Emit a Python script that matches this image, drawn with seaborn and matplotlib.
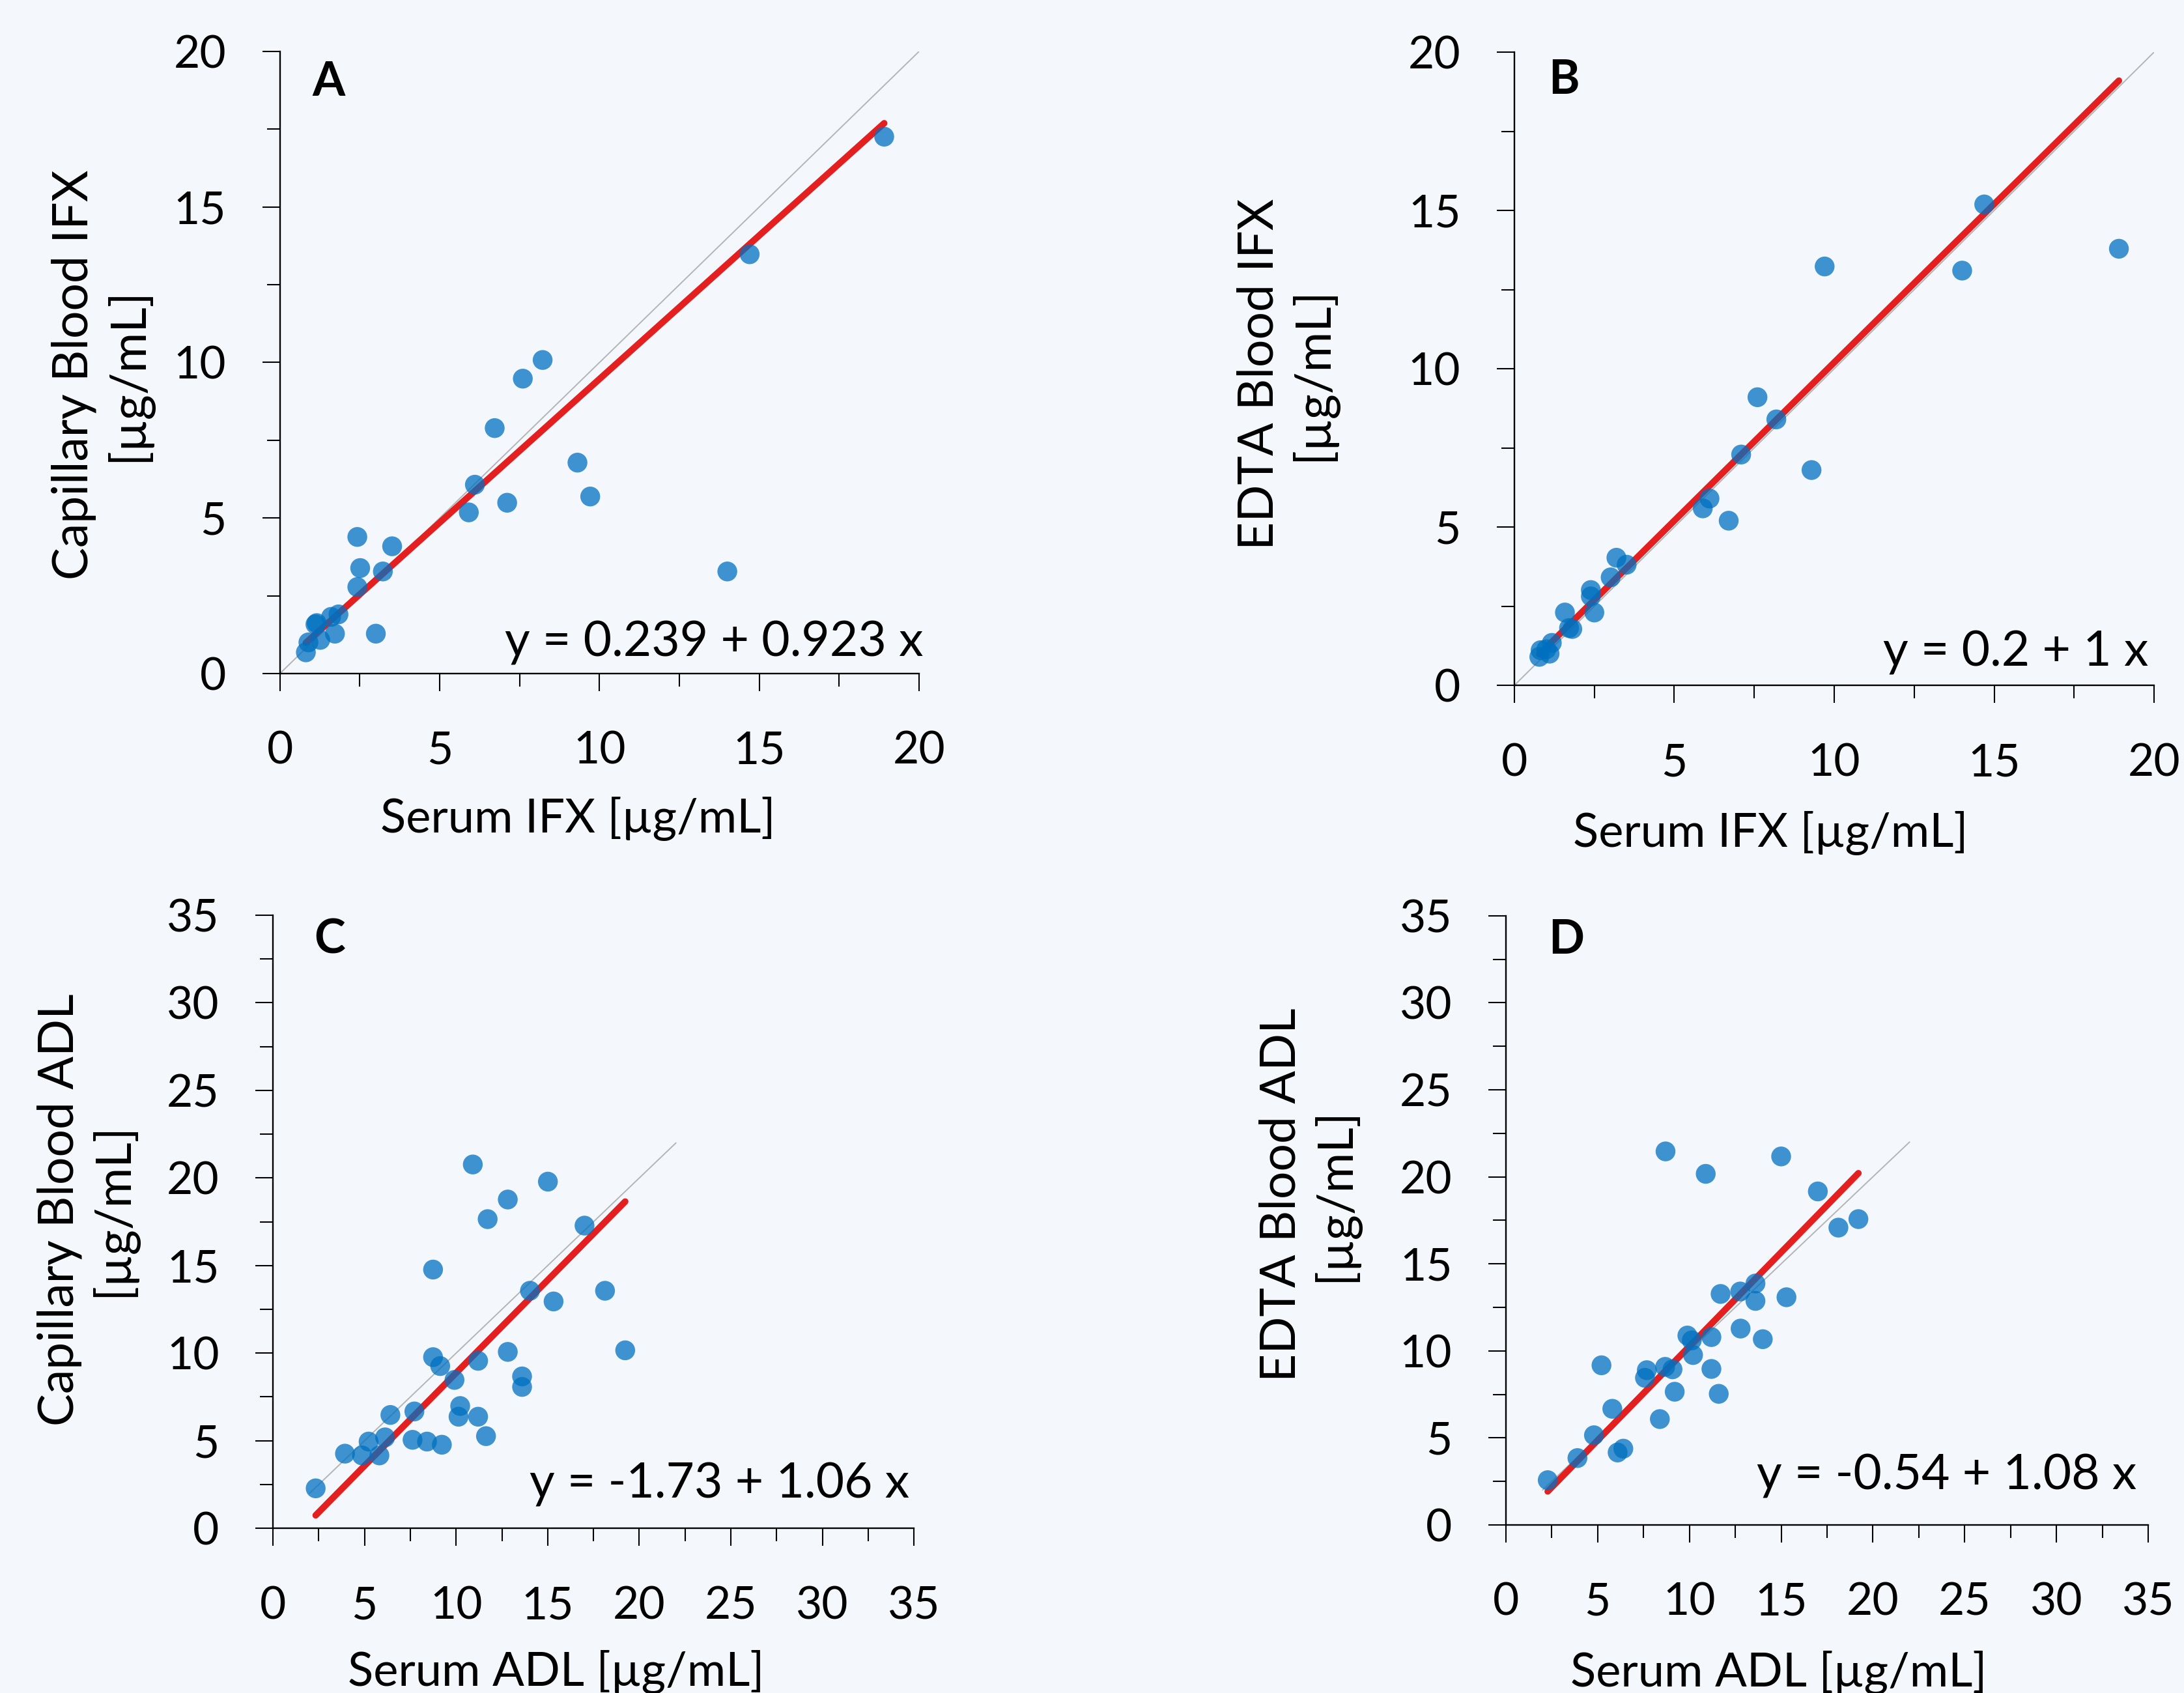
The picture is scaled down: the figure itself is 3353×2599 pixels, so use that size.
import numpy as np
import pandas as pd
import seaborn as sns
import matplotlib
matplotlib.use("Agg")
import matplotlib.pyplot as plt
from matplotlib.ticker import MultipleLocator

# ---- data ----
# A: serum IFX vs capillary blood IFX
a_serum = [18.91, 14.70, 14.00, 8.22, 7.60, 6.72, 9.31, 9.71, 6.10, 7.11, 5.91, 2.42, 3.51,
           2.51, 3.22, 2.42, 3.00, 1.83, 1.60, 1.72, 1.11, 1.15, 1.26, 0.89, 0.81]
a_cap = [17.26, 13.48, 3.28, 10.08, 9.48, 7.89, 6.78, 5.69, 6.07, 5.49, 5.18, 4.39, 4.09,
         3.39, 3.28, 2.78, 1.28, 1.90, 1.82, 1.28, 1.58, 1.62, 1.08, 1.00, 0.68]
# B: serum IFX vs EDTA blood IFX
b_serum = [18.90, 14.69, 14.00, 9.70, 9.29, 7.60, 8.19, 7.09, 6.10, 5.89, 6.70, 3.19, 3.51,
           3.01, 2.39, 2.39, 2.50, 1.58, 1.71, 1.81, 1.17, 1.00, 1.10, 0.82, 0.78]
b_edta = [13.79, 15.19, 13.10, 13.23, 6.80, 9.10, 8.40, 7.29, 5.90, 5.59, 5.20, 4.03, 3.81,
          3.41, 3.01, 2.81, 2.30, 2.30, 1.81, 1.78, 1.34, 1.14, 1.00, 1.11, 0.90]
# C: serum ADL vs capillary blood ADL
c_serum = [10.91, 15.01, 12.82, 11.72, 17.01, 8.74, 14.03, 18.13, 15.32, 19.23, 12.82, 8.74,
           9.13, 11.20, 9.91, 13.60, 13.60, 10.22, 10.13, 11.20, 7.72, 6.41, 11.63, 6.12,
           5.22, 7.62, 8.41, 9.22, 3.93, 4.86, 5.81, 2.33]
c_cap = [20.77, 19.79, 18.77, 17.65, 17.28, 14.77, 13.56, 13.56, 12.95, 10.16, 10.07, 9.77,
         9.26, 9.56, 8.47, 8.67, 8.07, 6.98, 6.37, 6.37, 6.67, 6.47, 5.26, 5.19,
         4.95, 5.05, 4.95, 4.77, 4.26, 4.16, 4.16, 2.28]
# D: serum ADL vs EDTA blood ADL
d_serum = [8.70, 15.00, 10.89, 17.00, 19.21, 18.12, 13.60, 12.77, 11.70, 15.29, 13.60, 12.79,
           14.00, 11.20, 9.89, 10.13, 10.20, 11.20, 8.68, 9.08, 5.21, 7.68, 7.58, 9.20,
           11.60, 8.39, 5.80, 4.80, 6.40, 6.09, 3.90, 2.28]
d_edta = [21.46, 21.17, 20.17, 19.16, 17.57, 17.08, 13.87, 13.41, 13.27, 13.08, 12.87, 11.28,
          10.67, 10.79, 10.88, 10.60, 9.76, 8.96, 9.08, 8.94, 9.17, 8.89, 8.45, 7.65,
          7.53, 6.08, 6.67, 5.15, 4.38, 4.16, 3.84, 2.57]

panel_letters = ["A", "B", "C", "D"]
x_labels = ["Serum IFX [µg/mL]", "Serum IFX [µg/mL]", "Serum ADL [µg/mL]", "Serum ADL [µg/mL]"]
y_labels = ["Capillary Blood IFX\n[µg/mL]", "EDTA Blood IFX\n[µg/mL]",
            "Capillary Blood ADL\n[µg/mL]", "EDTA Blood ADL\n[µg/mL]"]
intercepts = [0.239, 0.2, -1.73, -0.54]
slopes = [0.923, 1, 1.06, 1.08]
equations = ["y = 0.239 + 0.923 x", "y = 0.2 + 1 x", "y = -1.73 + 1.06 x", "y = -0.54 + 1.08 x"]
axis_max = [20, 20, 35, 35]
identity_range = [(0, 20), (0, 20), (2, 22), (2, 22)]

# ---- style ----
BG = "#F4F8FC"
sns.set_theme(style="ticks")
plt.rcParams["font.family"] = ["Lato", "DejaVu Sans"]
plt.rcParams["axes.facecolor"] = BG
plt.rcParams["figure.facecolor"] = BG
for key in ["text.color", "axes.labelcolor", "xtick.color", "ytick.color",
            "xtick.labelcolor", "ytick.labelcolor"]:
    plt.rcParams[key] = "black"

fig = plt.figure(figsize=(3353 / 200, 2599 / 200), dpi=200)

# axes rectangles [left, bottom, width, height] in figure fraction
rects = [[0.1282, 0.6022, 0.2926, 0.3674],
         [0.6934, 0.5952, 0.2929, 0.3740],
         [0.1250, 0.0973, 0.2935, 0.3621],
         [0.6895, 0.0993, 0.2941, 0.3598]]
ylabel_pos = [(-0.201, 0.48), (-0.278, 0.492), (-0.212, 0.52), (-0.229, 0.542)]
xlabel_pos = [(0.466, -0.198), (0.40, -0.198), (0.442, -0.199), (0.425, -0.206)]
letter_pos = [(0.05, 0.985), (0.053, 0.99), (0.064, 0.995), (0.066, 0.996)]
eq_pos = [(1.007, 0.028), (0.991, 0.030), (0.993, 0.050), (0.982, 0.058)]

datasets = [(a_serum, a_cap), (b_serum, b_edta), (c_serum, c_cap), (d_serum, d_edta)]

for i, (xs, ys) in enumerate(datasets):
    ax = fig.add_axes(rects[i])
    df = pd.DataFrame({"serum": xs, "blood": ys})

    # identity line
    lo, hi = identity_range[i]
    ax.plot([lo, hi], [lo, hi], color="#B4B4B4", lw=0.7, zorder=1)

    # regression line across data range
    xr = np.array([df["serum"].min(), df["serum"].max()])
    ax.plot(xr, intercepts[i] + slopes[i] * xr, color="#E31F1F", lw=3.6,
            solid_capstyle="round", zorder=2)

    sns.scatterplot(data=df, x="serum", y="blood", ax=ax, color="#0070C0", alpha=0.75,
                    s=120, edgecolor="none", linewidth=0, zorder=3)

    m = axis_max[i]
    ax.set_xlim(0, m)
    ax.set_ylim(0, m)
    ax.xaxis.set_major_locator(MultipleLocator(5))
    ax.yaxis.set_major_locator(MultipleLocator(5))
    ax.xaxis.set_minor_locator(MultipleLocator(2.5))
    ax.yaxis.set_minor_locator(MultipleLocator(2.5))
    ax.tick_params(which="major", length=9.7, width=0.75, color="black", labelsize=25)
    ax.tick_params(which="minor", length=7.2, width=0.75, color="black")
    ax.tick_params(axis="x", which="major", pad=22)
    ax.tick_params(axis="y", which="major", pad=20)

    for side in ["top", "right"]:
        ax.spines[side].set_visible(False)
    for side in ["left", "bottom"]:
        ax.spines[side].set_color("black")
        ax.spines[side].set_linewidth(0.85)

    ax.set_xlabel(x_labels[i], fontsize=26)
    ax.set_ylabel(y_labels[i], fontsize=27)
    ax.xaxis.set_label_coords(*xlabel_pos[i])
    ax.yaxis.set_label_coords(*ylabel_pos[i])

    ax.text(*letter_pos[i], panel_letters[i], transform=ax.transAxes, fontsize=26,
            fontweight="bold", ha="left", va="top")
    ax.text(*eq_pos[i], equations[i], transform=ax.transAxes, fontsize=27,
            ha="right", va="baseline")

fig.savefig("out.png", dpi=200, facecolor=BG)
